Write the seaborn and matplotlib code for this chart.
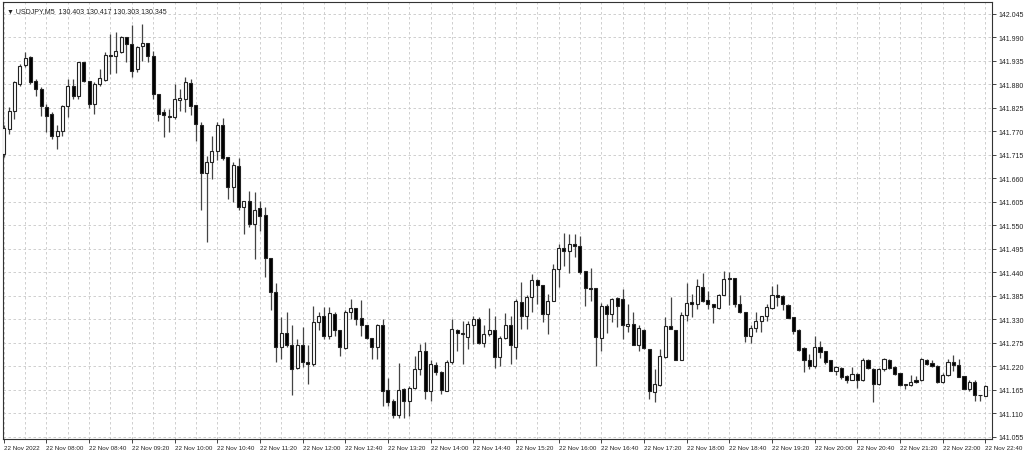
import numpy as np
import pandas as pd
import matplotlib
matplotlib.use("Agg")
import matplotlib.pyplot as plt
import seaborn as sns

# USDJPY M5, 22 Nov 2022, 07:20 - 22:40 (185 candles)
opens = [
    141.717, 141.776, 141.819, 141.881, 141.926, 141.944, 141.887, 141.869, 141.827, 141.811,
    141.759, 141.772, 141.829, 141.877, 141.852, 141.932, 141.889, 141.834, 141.881, 141.891,
    141.949, 141.946, 141.957, 141.990, 141.975, 141.916, 141.971, 141.977, 141.946, 141.858,
    141.815, 141.807, 141.803, 141.844, 141.846, 141.883, 141.832, 141.786, 141.672, 141.699,
    141.725, 141.784, 141.710, 141.639, 141.690, 141.593, 141.606, 141.554, 141.590, 141.575,
    141.474, 141.394, 141.266, 141.298, 141.271, 141.216, 141.271, 141.231, 141.226, 141.325,
    141.338, 141.292, 141.343, 141.305, 141.263, 141.347, 141.356, 141.333, 141.316, 141.286,
    141.265, 141.317, 141.165, 141.138, 141.107, 141.167, 141.140, 141.169, 141.214, 141.255,
    141.162, 141.224, 141.208, 141.163, 141.230, 141.304, 141.295, 141.288, 141.318, 141.331,
    141.275, 141.296, 141.304, 141.243, 141.287, 141.316, 141.266, 141.370, 141.339, 141.382,
    141.422, 141.411, 141.343, 141.373, 141.447, 141.497, 141.489, 141.507, 141.501, 141.443,
    141.403, 141.403, 141.287, 141.361, 141.343, 141.380, 141.378, 141.314, 141.320, 141.269,
    141.306, 141.261, 141.160, 141.177, 141.243, 141.314, 141.305, 141.234, 141.341, 141.370,
    141.366, 141.405, 141.376, 141.366, 141.357, 141.387, 141.427, 141.426, 141.366, 141.348,
    141.290, 141.310, 141.327, 141.337, 141.356, 141.387, 141.384, 141.364, 141.335, 141.305,
    141.263, 141.235, 141.221, 141.265, 141.256, 141.234, 141.210, 141.216, 141.197, 141.187,
    141.203, 141.187, 141.235, 141.214, 141.179, 141.213, 141.236, 141.218, 141.204, 141.177,
    141.177, 141.187, 141.187, 141.236, 141.228, 141.222, 141.183, 141.199, 141.230, 141.224,
    141.197, 141.166, 141.184, 141.153, 141.151,
]
highs = [
    141.785, 141.827, 141.889, 141.928, 141.955, 141.946, 141.893, 141.873, 141.834, 141.815,
    141.784, 141.832, 141.893, 141.893, 141.933, 141.933, 141.889, 141.885, 141.916, 141.955,
    141.998, 142.003, 141.994, 141.990, 142.018, 141.969, 142.022, 141.977, 141.959, 141.858,
    141.823, 141.823, 141.881, 141.869, 141.897, 141.893, 141.832, 141.793, 141.713, 141.760,
    141.791, 141.801, 141.710, 141.698, 141.707, 141.608, 141.631, 141.628, 141.608, 141.593,
    141.474, 141.415, 141.335, 141.347, 141.316, 141.284, 141.312, 141.269, 141.361, 141.347,
    141.360, 141.358, 141.347, 141.305, 141.351, 141.378, 141.356, 141.376, 141.316, 141.286,
    141.320, 141.331, 141.192, 141.144, 141.228, 141.169, 141.175, 141.245, 141.273, 141.278,
    141.236, 141.230, 141.210, 141.234, 141.330, 141.308, 141.327, 141.327, 141.338, 141.335,
    141.316, 141.357, 141.338, 141.292, 141.345, 141.338, 141.378, 141.417, 141.386, 141.436,
    141.425, 141.411, 141.390, 141.460, 141.507, 141.532, 141.530, 141.530, 141.526, 141.443,
    141.450, 141.403, 141.369, 141.366, 141.380, 141.382, 141.400, 141.366, 141.347, 141.316,
    141.308, 141.261, 141.214, 141.261, 141.335, 141.382, 141.305, 141.347, 141.415, 141.390,
    141.425, 141.439, 141.397, 141.366, 141.390, 141.444, 141.442, 141.426, 141.387, 141.348,
    141.316, 141.347, 141.339, 141.366, 141.409, 141.413, 141.387, 141.366, 141.335, 141.308,
    141.265, 141.249, 141.292, 141.280, 141.257, 141.234, 141.220, 141.218, 141.199, 141.218,
    141.204, 141.239, 141.238, 141.216, 141.216, 141.239, 141.238, 141.220, 141.204, 141.179,
    141.199, 141.197, 141.239, 141.238, 141.234, 141.223, 141.204, 141.238, 141.247, 141.238,
    141.197, 141.187, 141.187, 141.153, 141.177,
]
lows = [
    141.710, 141.764, 141.799, 141.877, 141.920, 141.881, 141.854, 141.807, 141.768, 141.752,
    141.729, 141.760, 141.803, 141.846, 141.846, 141.885, 141.824, 141.811, 141.877, 141.889,
    141.904, 141.907, 141.953, 141.933, 141.897, 141.908, 141.936, 141.932, 141.846, 141.795,
    141.756, 141.768, 141.799, 141.819, 141.815, 141.809, 141.748, 141.585, 141.511, 141.659,
    141.702, 141.702, 141.612, 141.604, 141.585, 141.530, 141.546, 141.472, 141.538, 141.429,
    141.351, 141.230, 141.238, 141.265, 141.152, 141.214, 141.218, 141.179, 141.222, 141.304,
    141.284, 141.284, 141.292, 141.245, 141.261, 141.330, 141.316, 141.292, 141.284, 141.238,
    141.238, 141.128, 141.128, 141.099, 141.099, 141.099, 141.105, 141.167, 141.199, 141.144,
    141.140, 141.199, 141.156, 141.163, 141.226, 141.255, 141.226, 141.261, 141.273, 141.273,
    141.265, 141.292, 141.216, 141.222, 141.284, 141.226, 141.238, 141.308, 141.308, 141.347,
    141.366, 141.323, 141.296, 141.372, 141.405, 141.456, 141.438, 141.476, 141.437, 141.362,
    141.374, 141.222, 141.257, 141.298, 141.325, 141.312, 141.284, 141.301, 141.269, 141.255,
    141.261, 141.144, 141.136, 141.175, 141.239, 141.308, 141.234, 141.234, 141.327, 141.335,
    141.355, 141.370, 141.355, 141.322, 141.355, 141.387, 141.364, 141.359, 141.345, 141.277,
    141.274, 141.300, 141.300, 141.327, 141.355, 141.362, 141.353, 141.333, 141.296, 141.257,
    141.206, 141.214, 141.216, 141.239, 141.226, 141.210, 141.199, 141.191, 141.181, 141.187,
    141.169, 141.185, 141.214, 141.136, 141.177, 141.210, 141.214, 141.199, 141.175, 141.166,
    141.175, 141.181, 141.185, 141.224, 141.218, 141.181, 141.181, 141.197, 141.210, 141.195,
    141.166, 141.163, 141.140, 141.138, 141.151,
]
closes = [
    141.778, 141.819, 141.885, 141.924, 141.941, 141.885, 141.869, 141.829, 141.807, 141.759,
    141.772, 141.829, 141.877, 141.854, 141.932, 141.889, 141.834, 141.881, 141.894, 141.949,
    141.946, 141.958, 141.990, 141.975, 141.912, 141.967, 141.977, 141.946, 141.858, 141.811,
    141.809, 141.803, 141.846, 141.848, 141.885, 141.830, 141.788, 141.672, 141.699, 141.725,
    141.784, 141.707, 141.639, 141.692, 141.593, 141.606, 141.554, 141.587, 141.573, 141.474,
    141.394, 141.266, 141.298, 141.269, 141.214, 141.271, 141.231, 141.226, 141.325, 141.337,
    141.292, 141.345, 141.304, 141.265, 141.347, 141.356, 141.331, 141.316, 141.286, 141.265,
    141.316, 141.163, 141.136, 141.107, 141.165, 141.140, 141.169, 141.213, 141.255, 141.162,
    141.226, 141.208, 141.165, 141.230, 141.308, 141.298, 141.298, 141.320, 141.331, 141.275,
    141.296, 141.304, 141.243, 141.287, 141.316, 141.269, 141.373, 141.339, 141.382, 141.422,
    141.411, 141.343, 141.373, 141.448, 141.497, 141.491, 141.507, 141.501, 141.440, 141.403,
    141.400, 141.288, 141.362, 141.343, 141.378, 141.361, 141.316, 141.320, 141.270, 141.309,
    141.263, 141.163, 141.179, 141.245, 141.314, 141.308, 141.235, 141.341, 141.369, 141.366,
    141.407, 141.374, 141.366, 141.359, 141.387, 141.425, 141.425, 141.366, 141.347, 141.291,
    141.310, 141.327, 141.337, 141.359, 141.386, 141.382, 141.366, 141.333, 141.302, 141.259,
    141.234, 141.221, 141.265, 141.253, 141.230, 141.210, 141.218, 141.195, 141.187, 141.201,
    141.189, 141.235, 141.216, 141.179, 141.214, 141.238, 141.216, 141.203, 141.177, 141.179,
    141.184, 141.183, 141.238, 141.226, 141.221, 141.184, 141.200, 141.231, 141.224, 141.196,
    141.167, 141.184, 141.153, 141.152, 141.175,
]

# labels every 40 min (8 candles)
time_labels = [
    "22 Nov 2022", "22 Nov 08:00", "22 Nov 08:40", "22 Nov 09:20", "22 Nov 10:00",
    "22 Nov 10:40", "22 Nov 11:20", "22 Nov 12:00", "22 Nov 12:40", "22 Nov 13:20",
    "22 Nov 14:00", "22 Nov 14:40", "22 Nov 15:20", "22 Nov 16:00", "22 Nov 16:40",
    "22 Nov 17:20", "22 Nov 18:00", "22 Nov 18:40", "22 Nov 19:20", "22 Nov 20:00",
    "22 Nov 20:40", "22 Nov 21:20", "22 Nov 22:00", "22 Nov 22:40",
]
price_ticks = [
    141.055, 141.110, 141.165, 141.220, 141.275, 141.330, 141.385, 141.440, 141.495, 141.550,
    141.605, 141.660, 141.715, 141.770, 141.825, 141.880, 141.935, 141.990, 142.045,
]
header = "\u25bc USDJPY,M5  130.403 130.417 130.303 130.345"

df = pd.DataFrame({"open": opens, "high": highs, "low": lows, "close": closes})
df["x"] = np.arange(len(df))
df["up"] = df["close"] >= df["open"]

sns.set_style("white")
plt.rcParams["font.family"] = ["Liberation Sans", "DejaVu Sans"]

fig, ax = plt.subplots(figsize=(10.24, 4.56), dpi=100)
fig.subplots_adjust(left=3 / 1024, right=992 / 1024, bottom=16 / 456, top=453 / 456)

# wicks
ax.vlines(df["x"], df["low"], df["high"], color="#444444", linewidth=0.9, zorder=2)

# bodies
body_low = df[["open", "close"]].min(axis=1)
body_h = (df["close"] - df["open"]).abs().clip(lower=0.0015)
face = np.where(df["up"], "white", "black")
ax.bar(df["x"], body_h, bottom=body_low, width=0.58, color=face,
       edgecolor="#222222", linewidth=0.8, zorder=3)

ax.set_xlim(-0.15, 185.25)
ax.set_ylim(141.050, 142.073)

# grid
ax.set_xticks(np.arange(0, len(df), 8))
ax.set_xticks(np.arange(0, len(df), 4), minor=True)
ax.set_xticklabels(time_labels, ha="left", fontsize=4.5, color="#222222")
ax.set_yticks(price_ticks)
ax.set_yticklabels([f"{p:.3f}" for p in price_ticks], fontsize=5, color="#222222")
ax.yaxis.tick_right()
ax.tick_params(axis="x", which="major", length=3, width=0.6, pad=1.5, direction="out", bottom=True)
ax.tick_params(axis="x", which="minor", length=0)
ax.tick_params(axis="y", length=3, width=0.6, pad=2, direction="out", right=True)
ax.grid(True, which="both", axis="x", color="#c8c8c8", linestyle=(0, (3, 3)), linewidth=0.6)
ax.grid(True, which="major", axis="y", color="#c8c8c8", linestyle=(0, (3, 3)), linewidth=0.6)
ax.set_axisbelow(True)

for s in ax.spines.values():
    s.set_color("#333333")
    s.set_linewidth(0.8)

ax.text(0.004, 0.988, header, transform=ax.transAxes, fontsize=5, va="top", ha="left",
        color="#222222")

fig.savefig("out.png", dpi=100, facecolor="white")
